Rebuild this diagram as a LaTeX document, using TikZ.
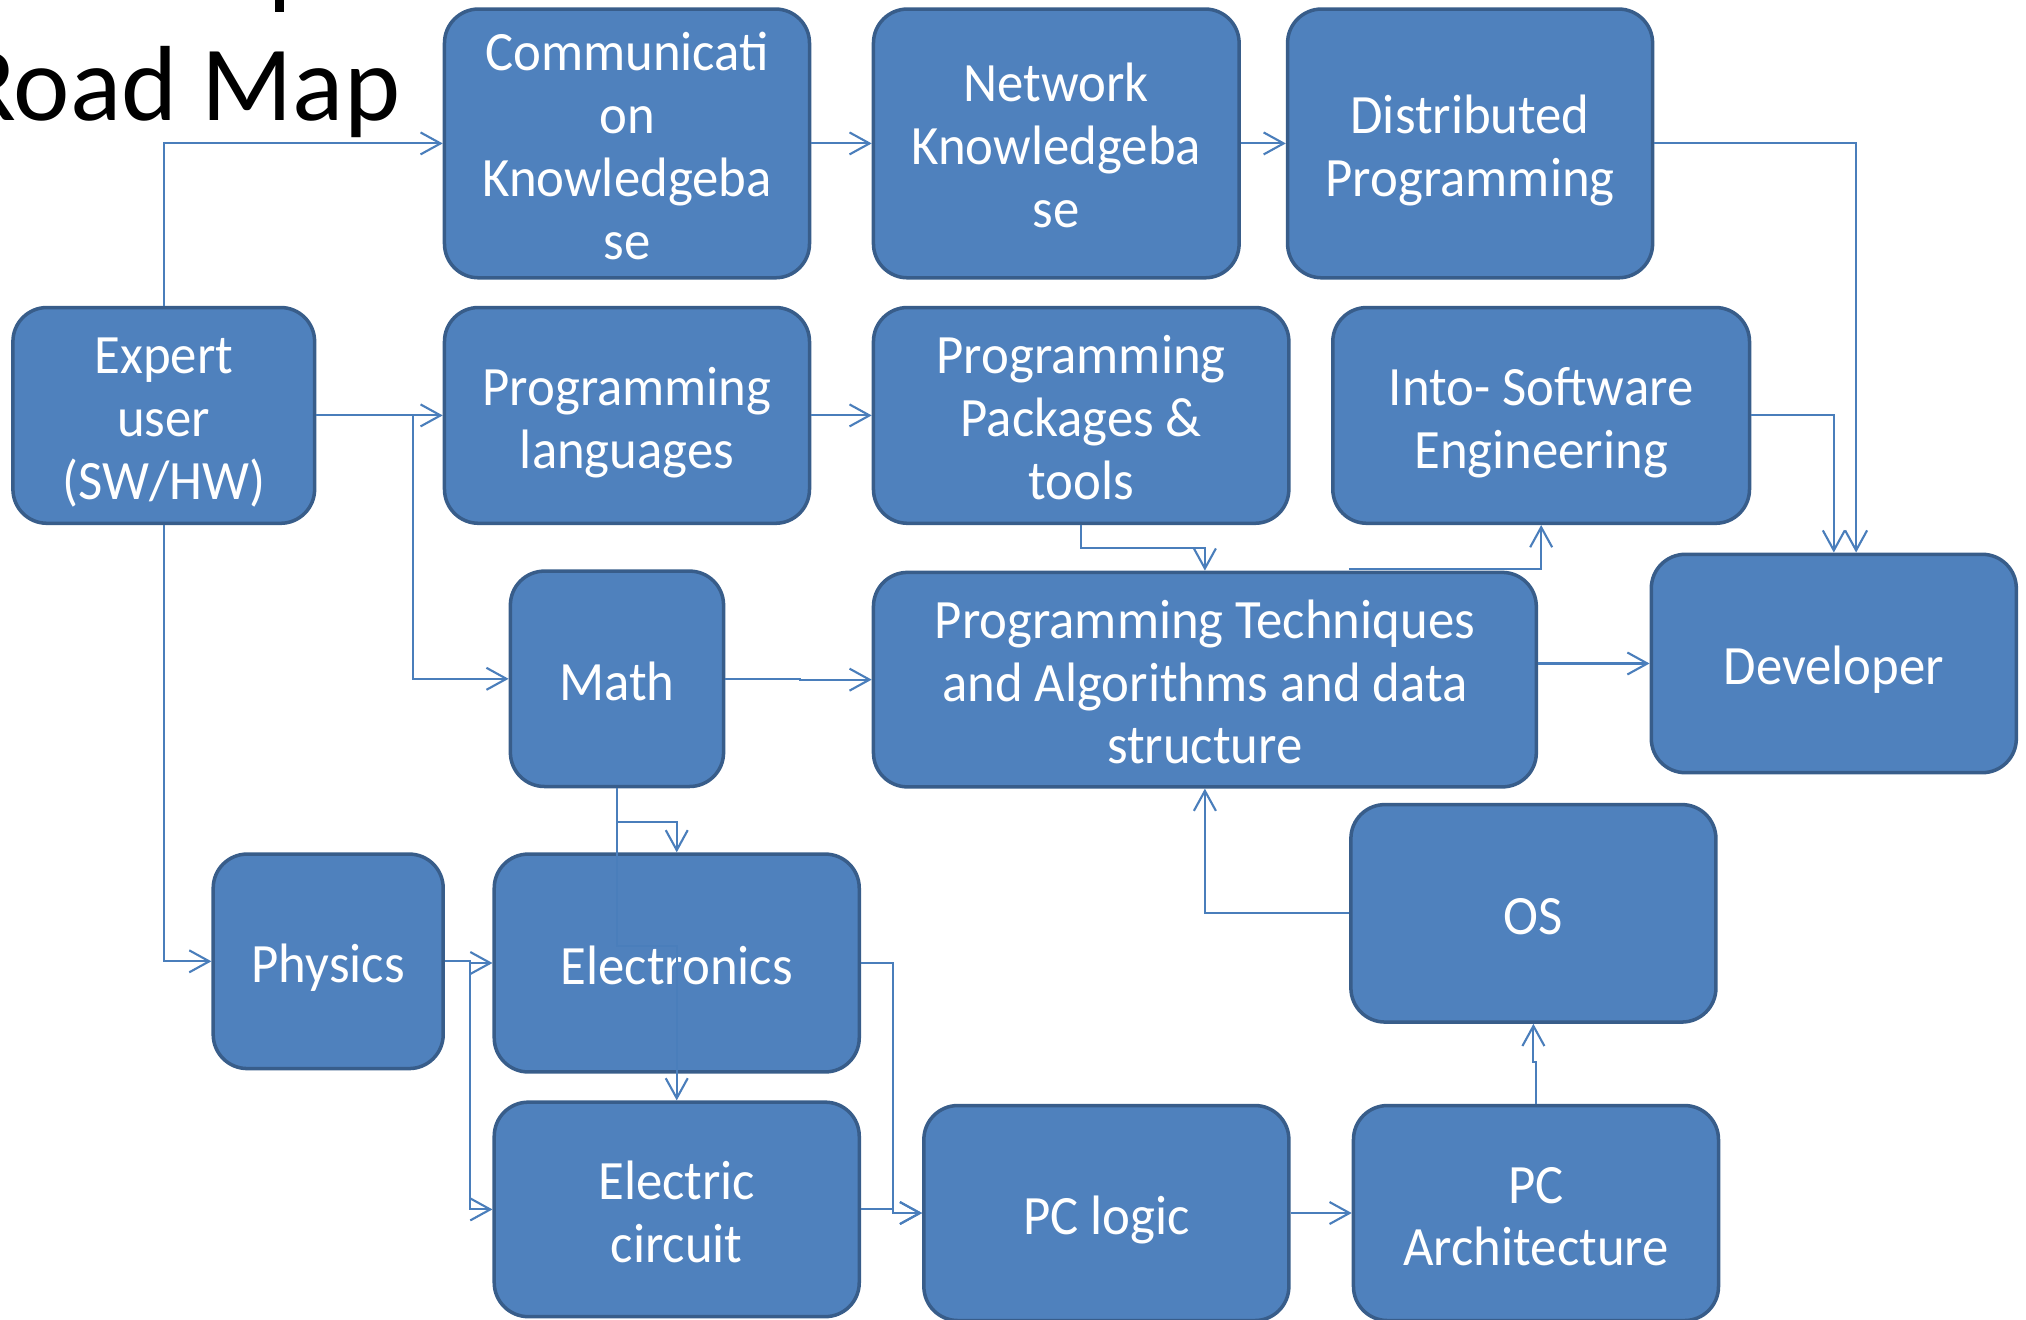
\documentclass[tikz,border=0pt]{standalone}
\usepackage{fontspec}
\setmainfont{Carlito}[FakeStretch=0.95]
\newfontfamily\titlefont{Carlito}
\usetikzlibrary{arrows.meta,calc}
\definecolor{boxfill}{HTML}{4F81BD}
\definecolor{boxline}{HTML}{385D8A}
\definecolor{conncol}{HTML}{4A7EBB}
\newcommand\topstrut{\rule{0pt}{16.2pt}}
\tikzset{
  bx/.style 2 args={draw=boxline, fill=boxfill, line width=1pt, rounded corners=0.34cm,
    minimum width=#1*0.01292cm, minimum height=#2*0.01292cm, text=white, align=center,
    inner sep=0pt, font=\fontsize{15.8}{17.9}\selectfont,
    execute at end node={\rule[-4pt]{0pt}{4pt}}},
  cn/.style={draw=conncol, line width=0.6pt, -{Straight Barb[length=2mm,width=2.2mm]}},
}
\begin{document}
\begin{tikzpicture}[x=0.01292cm, y=-0.01292cm]
\useasboundingbox (0,0) rectangle (1568,1021);
% title
\node[anchor=base west, inner sep=0pt, font=\titlefont\fontsize{30.4}{36}\selectfont] (title) at (-33,93.4) {Road Map};
\fill[black] (212.8,0) rectangle (219.8,9);
% boxes
\node[bx={282.5}{208}] (comm) at (485.25,111) {\topstrut Communicati\\on\\Knowledgeba\\se};
\node[bx={283}{208}] (net) at (817.5,111) {\topstrut Network\\Knowledgeba\\se};
\node[bx={282.5}{208}] (dist) at (1137.75,111) {\topstrut Distributed\\Programming};
\node[bx={233.5}{167}] (expert) at (126.75,321.5) {\topstrut Expert\\user\\(SW/HW)};
\node[bx={282.5}{167}] (lang) at (485.25,321.5) {\topstrut Programming\\languages};
\node[bx={321.5}{167}] (pack) at (836.75,321.5) {\topstrut Programming\\Packages \&\\tools};
\node[bx={322.5}{167}] (se) at (1192.75,321.5) {\topstrut Into- Software\\Engineering};
\node[bx={165}{166.7}] (math) at (477.5,525.35) {\topstrut Math};
\node[bx={513}{166}] (tech) at (932.5,526) {\topstrut Programming Techniques\\and Algorithms and data\\structure};
\node[bx={282.5}{169}] (dev) at (1419.25,513.5) {\topstrut Developer};
\node[bx={282.5}{168.3}] (os) at (1186.75,706.85) {\topstrut OS};
\node[bx={178}{166}] (phys) at (254,744) {\topstrut Physics};
\node[bx={282.5}{168.6}] (elec) at (523.75,745.3) {\topstrut Electronics};
\node[bx={282.5}{166}] (circ) at (523.75,936) {\topstrut Electric\\circuit};
\node[bx={282.5}{166.4}] (logic) at (856.25,938.8) {\topstrut PC logic};
\node[bx={282.5}{166.4}] (arch) at (1188.75,938.8) {\topstrut PC\\Architecture};
% connectors
\draw[cn] (expert.north) |- (comm.west);
\draw[cn] (comm.east) -- (net.west);
\draw[cn] (net.east) -- (dist.west);
\draw[cn] (dist.east) -| ($(dev.north)+(17.25,0)$);
\draw[cn] (se.east) -| (dev.north);
\draw[cn] (expert.east) -- (lang.west);
\draw[cn] (expert.east) -- ++(75,0) |- (math.west);
\draw[cn] (lang.east) -- (pack.west);
\draw[cn] (pack.south) -- ++(0,18) -| (tech.north);
\draw[cn] ($(tech.north)+(111.5,-1)$) -| (se.south);
\draw[cn] (math.east) -- ++(58,0) |- (tech.west);
\draw[cn] (tech.east |- dev.west) -- (dev.west);
\draw[cn] (os.west) -| (tech.south);
\draw[cn] (arch.north) -- ++(0,-32) -| (os.south);
\draw[cn] (logic.east) -- (arch.west);
\draw[cn] (math.south) -- ++(0,26) -| (elec.north);
\draw[cn] (math.south) -- ++(0,122) -| (circ.north);
\draw[cn] (expert.south) |- (phys.west);
\draw[cn] (phys.east) -- ++(19.5,0) |- (elec.west);
\draw[cn] (phys.east) -- ++(19.5,0) |- (circ.west);
\draw[cn] (elec.east) -- ++(25,0) |- (logic.west);
\draw[cn] (circ.east) -- ++(25,0) |- (logic.west);
\end{tikzpicture}
\end{document}
